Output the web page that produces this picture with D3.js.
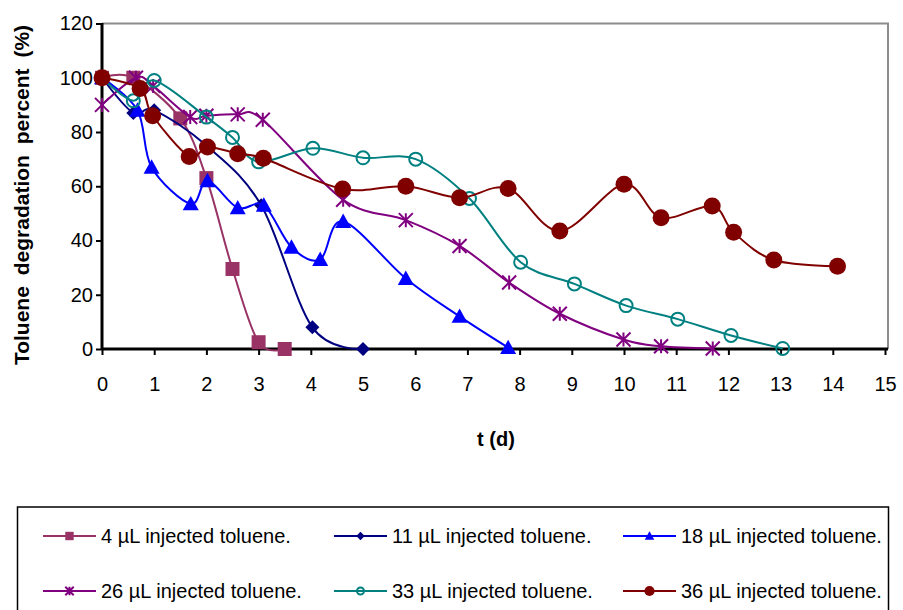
<!DOCTYPE html>
<html>
<head>
<meta charset="utf-8">
<script src="https://cdn.jsdelivr.net/npm/d3@7"></script>
<style>
  body { margin: 0; background: #fff; }
  text { font-family: "Liberation Sans", Arial, sans-serif; }
</style>
</head>
<body>
<svg id="chart" width="903" height="610"></svg>
<script>
// sampling times (d) and degradation percent (%) per injected volume
var t4  = [0, 0.6, 1.5, 2, 2.5, 3, 3.5];
var v4  = [100, 100, 85, 63, 29.5, 2.5, 0];
var t11 = [0, 0.6, 1, 2, 3.05, 4.03, 5];
var v11 = [100, 87, 88, 75, 53, 8, 0];
var t18 = [0, 0.68, 0.95, 1.7, 2.02, 2.6, 3.1, 3.63, 4.18, 4.62, 5.82, 6.85, 7.78];
var v18 = [100, 88, 67, 53.5, 62, 52, 53, 37.5, 33, 47, 26, 12, 0.5];
var t26 = [0, 0.65, 0.98, 1.69, 2, 2.6, 3.08, 4.62, 5.82, 6.85, 7.8, 8.77, 9.99, 10.71, 11.7];
var v26 = [90, 100, 97, 85.5, 86, 86.5, 84.5, 55, 47.5, 38, 24.5, 13, 3.5, 1, 0.2];
var t33 = [0, 0.6, 1, 2, 2.5, 3, 4.04, 5, 6.01, 7.04, 8.02, 9.05, 10.04, 11.03, 12.05, 13.04];
var v33 = [100, 91.5, 99, 85.5, 78, 69, 74, 70.5, 70, 55.5, 32, 24, 16, 11, 5, 0.2];
var t36 = [0, 0.73, 0.97, 1.67, 2.02, 2.6, 3.09, 4.61, 5.82, 6.85, 7.78, 8.77, 10, 10.71, 11.69, 12.1, 12.87, 14.09];
var v36 = [100, 96, 86, 71, 74.5, 72, 70.3, 59, 60, 55.8, 59.2, 43.5, 60.7, 48.4, 52.7, 43, 32.8, 30.5];

var seriesNames = ["4 µL injected toluene.", "11 µL injected toluene.", "18 µL injected toluene.",
                   "26 µL injected toluene.", "33 µL injected toluene.", "36 µL injected toluene."];
var xTicks = d3.range(0, 16, 1);
var yTicks = d3.range(0, 121, 20);

var series = [
  {name: seriesNames[0], t: t4,  v: v4,  color: "#993366", marker: "square"},
  {name: seriesNames[1], t: t11, v: v11, color: "#000080", marker: "diamond"},
  {name: seriesNames[2], t: t18, v: v18, color: "#0000ff", marker: "triangle"},
  {name: seriesNames[3], t: t26, v: v26, color: "#800080", marker: "star"},
  {name: seriesNames[4], t: t33, v: v33, color: "#008080", marker: "ring"},
  {name: seriesNames[5], t: t36, v: v36, color: "#800000", marker: "dot"}
];

var svg = d3.select("#chart");

var x = d3.scaleLinear().domain([0, 15]).range([102, 885]);
var y = d3.scaleLinear().domain([0, 120]).range([349, 23.5]);

// plot area frame (top / right in grey)
svg.append("path")
    .attr("d", "M102,23.5H888V349")
    .attr("fill", "none")
    .attr("stroke", "#8c8c8c")
    .attr("stroke-width", 2);

// axes
var yAxis = d3.axisLeft(y).tickValues(yTicks).tickSize(6).tickPadding(3);
var xAxis = d3.axisBottom(x).tickValues(xTicks).tickSize(6).tickPadding(22);

var gy = svg.append("g").attr("transform", "translate(102,0)").call(yAxis);
var gx = svg.append("g").attr("transform", "translate(0,349)").call(xAxis);

[gx, gy].forEach(function (g) {
  g.select(".domain").attr("stroke", "#000").attr("stroke-width", 3);
  g.selectAll(".tick line").attr("stroke", "#000").attr("stroke-width", 2);
  g.selectAll(".tick text")
      .attr("fill", "#000")
      .style("font-size", "20px")
      .style("font-family", "'Liberation Sans', Arial, sans-serif");
});
gy.select(".domain").attr("d", "M0,349V23");
gx.select(".domain").attr("d", "M102,0H888");

// axis titles
svg.append("text")
    .attr("transform", "translate(29,195) rotate(-90)")
    .attr("text-anchor", "middle")
    .style("font-size", "21px")
    .style("font-weight", "bold")
    .style("word-spacing", "5px")
    .text("Toluene degradation percent (%)");

svg.append("text")
    .attr("x", 496)
    .attr("y", 446)
    .attr("text-anchor", "middle")
    .style("font-size", "20px")
    .style("font-weight", "bold")
    .text("t (d)");

// marker drawing
function drawMarker(g, kind, color, s) {
  if (kind === "square") {
    g.append("rect").attr("x", -s / 2).attr("y", -s / 2).attr("width", s).attr("height", s)
        .attr("fill", color);
  } else if (kind === "diamond") {
    var h = s / 2;
    g.append("path").attr("d", "M0," + (-h) + "L" + h + ",0L0," + h + "L" + (-h) + ",0Z")
        .attr("fill", color);
  } else if (kind === "triangle") {
    var w = s / 2;
    g.append("path").attr("d", "M0," + (-w) + "L" + w + "," + (w * 0.8) + "L" + (-w) + "," + (w * 0.8) + "Z")
        .attr("fill", color);
  } else if (kind === "star") {
    var a = s / 2;
    g.append("path")
        .attr("d", "M" + (-a) + "," + (-a) + "L" + a + "," + a +
                   "M" + (-a) + "," + a + "L" + a + "," + (-a) +
                   "M0," + (-a) + "V" + a)
        .attr("stroke", color).attr("stroke-width", 2).attr("fill", "none");
  } else if (kind === "ring") {
    g.append("circle").attr("r", s / 2 - 1).attr("fill", "#fff")
        .attr("fill-opacity", 0).attr("stroke", color).attr("stroke-width", 2);
  } else if (kind === "dot") {
    g.append("circle").attr("r", s / 2).attr("fill", color);
  }
}

var markerSize = {square: 14, diamond: 14, triangle: 16, star: 14, ring: 15, dot: 17};

var line = d3.line()
    .x(function (d) { return x(d[0]); })
    .y(function (d) { return y(d[1]); })
    .curve(d3.curveCardinal.tension(0));

series.forEach(function (s) {
  var pts = s.t.map(function (t, i) { return [t, s.v[i]]; });
  var g = svg.append("g");
  g.append("path")
      .attr("d", line(pts))
      .attr("fill", "none")
      .attr("stroke", s.color)
      .attr("stroke-width", 2);
  pts.forEach(function (p) {
    var m = g.append("g").attr("transform", "translate(" + x(p[0]) + "," + y(p[1]) + ")");
    drawMarker(m, s.marker, s.color, markerSize[s.marker]);
  });
});

// legend
svg.append("rect")
    .attr("x", 17.5).attr("y", 507)
    .attr("width", 871).attr("height", 120)
    .attr("fill", "#fff")
    .attr("stroke", "#000")
    .attr("stroke-width", 1.5);

var colX = [43, 334, 623];
var rowY = [536, 591];

series.forEach(function (s, i) {
  var lx = colX[i % 3], ly = rowY[Math.floor(i / 3)];
  var g = svg.append("g").attr("transform", "translate(" + lx + "," + ly + ")");
  g.append("line").attr("x1", 0).attr("x2", 53).attr("y1", 0).attr("y2", 0)
      .attr("stroke", s.color).attr("stroke-width", 2);
  var m = g.append("g").attr("transform", "translate(26.5,0)");
  drawMarker(m, s.marker, s.color, markerSize[s.marker] * 0.6);
  g.append("text")
      .attr("x", 58).attr("y", 7)
      .style("font-size", "20px")
      .text(s.name);
});
</script>
</body>
</html>
